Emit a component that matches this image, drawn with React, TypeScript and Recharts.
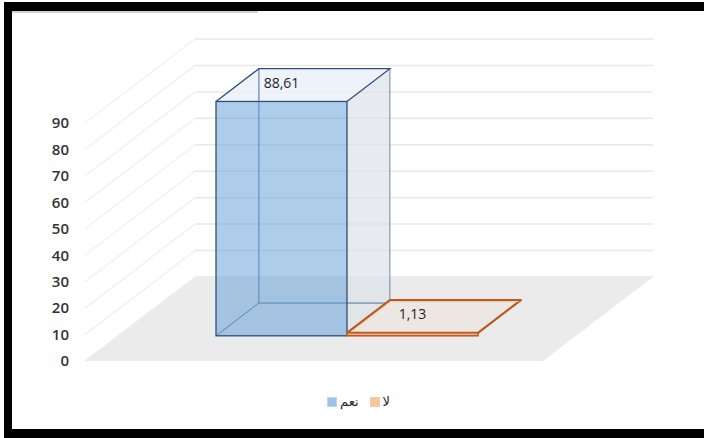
import React from 'react';
import { BarChart, Bar, XAxis, YAxis, CartesianGrid, ReferenceArea } from 'recharts';

// ---- data ----
const categories = ['الإجابة'];
const seriesNames = ['نعم', 'لا'];
const yesValues = [88.61];
const noValues = [1.13];
const yTicks = [0, 10, 20, 30, 40, 50, 60, 70, 80, 90];

const data = categories.map((c, i) => ({ name: c, yes: yesValues[i], no: noValues[i] }));

// ---- 3D projection helpers (depth vector of the floor) ----
const DX = 110;
const DY = 84;
const F0 = 0.3; // bar front depth fraction
const F1 = 0.69; // bar back depth fraction

const fmt = (v: number) => v.toFixed(2).replace('.', ',');

const pts = (a: number[][]) => a.map((p) => p.join(',')).join(' ');

const BlueBox = (props: any) => {
  const { x, y, width, height, payload } = props;
  const v = payload ? payload.yes : 0;
  const fx = x + DX * F0;
  const fy = y - DY * F0;
  const bx = x + DX * F1;
  const by = y - DY * F1;
  const fb = fy + height;
  const bb = by + height;
  const w = width;
  const edge = '#2F4F78';
  return (
    <g>
      {/* right side face */}
      <polygon points={pts([[fx + w, fy], [bx + w, by], [bx + w, bb], [fx + w, fb]])} fill="#DDE2E9" fillOpacity={0.7} />
      {/* top face */}
      <polygon points={pts([[fx, fy], [fx + w, fy], [bx + w, by], [bx, by]])} fill="#EBF1F8" fillOpacity={0.85} />
      {/* hidden (back) edges */}
      <line x1={bx} y1={by} x2={bx} y2={bb} stroke="#4D6F98" strokeWidth={1} />
      <line x1={bx} y1={bb} x2={bx + w} y2={bb} stroke="#4D6F98" strokeWidth={1} />
      <line x1={fx} y1={fb} x2={bx} y2={bb} stroke="#4D6F98" strokeWidth={1} />
      {/* front face */}
      <rect x={fx} y={fy} width={w} height={height} fill="#5B9BD5" fillOpacity={0.5} />
      {/* visible edges */}
      <rect x={fx} y={fy} width={w} height={height} fill="none" stroke={edge} strokeWidth={1.3} />
      <polyline points={pts([[fx, fy], [bx, by], [bx + w, by], [fx + w, fy]])} fill="none" stroke={edge} strokeWidth={1.3} />
      <line x1={bx + w} y1={by} x2={bx + w} y2={bb} stroke="#6F86A3" strokeWidth={1} />
      <text x={fx + w / 2} y={(fy + by) / 2 - 3} textAnchor="middle" dominantBaseline="central" fontFamily="'Open Sans', sans-serif" fontSize={14} fill="#1F1F1F">
        {fmt(v)}
      </text>
    </g>
  );
};

const OrangeBox = (props: any) => {
  const { x, y, width, height, payload } = props;
  const v = payload ? payload.no : 0;
  const fx = x + DX * F0;
  const fy = y - DY * F0;
  const bx = x + DX * F1;
  const by = y - DY * F1;
  const w = width;
  const edge = '#B55A25';
  return (
    <g>
      <polygon points={pts([[fx, fy], [fx + w, fy], [bx + w, by], [bx, by]])} fill="#ECE7E3" stroke={edge} strokeWidth={2.2} strokeLinejoin="round" />
      <polyline points={pts([[fx + 1, fy + 1.5], [bx + 1, by + 1.5], [bx + w - 2, by + 1.5]])} fill="none" stroke="#F2C9A3" strokeWidth={1} />
      <rect x={fx} y={fy} width={w} height={Math.max(height, 1)} fill="#F4B183" stroke={edge} strokeWidth={1.5} />
      <text x={fx + w / 2} y={(fy + by) / 2 - 3} textAnchor="middle" dominantBaseline="central" fontFamily="'Open Sans', sans-serif" fontSize={14} fill="#1F1F1F">
        {fmt(v)}
      </text>
    </g>
  );
};

const Floor = (props: any) => {
  const { x, y, width, height } = props;
  const b = y + height;
  return (
    <polygon points={pts([[x, b], [x + width, b], [x + width + DX, b - DY], [x + DX, b - DY]])} fill="#EBEBEB" />
  );
};

const gridLine = (props: any) => {
  const { x1, x2, y1 } = props;
  return (
    <g key={props.key}>
      <line x1={x1} y1={y1} x2={x1 + DX} y2={y1 - DY} stroke="#F2F2F2" strokeWidth={1.5} />
      <line x1={x1 + DX} y1={y1 - DY} x2={x2 + DX} y2={y1 - DY} stroke="#E8E8E8" strokeWidth={1.5} />
    </g>
  );
};

const legendColors = ['#9DC3E6', '#F4C899'];
const legendBorders = ['#BDD7EE', '#F8CBAD'];

export default function App() {
  return (
    <div style={{ position: 'absolute', left: 0, top: 0, width: 704, height: 438, background: '#FFFFFF', overflow: 'hidden' }}>
      <BarChart
        width={704}
        height={438}
        data={data}
        margin={{ top: 123, right: 161, bottom: 77, left: 0 }}
        barSize={131}
        barGap={0}
      >
        <CartesianGrid vertical={false} horizontal={gridLine} />
        <ReferenceArea y1={0} y2={90} shape={Floor} />
        <XAxis dataKey="name" hide />
        <YAxis
          width={85}
          domain={[0, 90]}
          ticks={yTicks}
          axisLine={false}
          tickLine={false}
          tickSize={6}
          tickMargin={10}
          tick={{ fill: '#333333', fontSize: 15, fontFamily: "'Open Sans', sans-serif", fontWeight: 600 }}
        />
        <Bar dataKey="yes" name={seriesNames[0]} shape={BlueBox} isAnimationActive={false} />
        <Bar dataKey="no" name={seriesNames[1]} shape={OrangeBox} isAnimationActive={false} />
      </BarChart>

      {/* legend */}
      <div style={{ position: 'absolute', left: 327, top: 394, display: 'flex', alignItems: 'center', direction: 'ltr', fontFamily: "'DejaVu Sans', 'Noto Sans', sans-serif", fontSize: 13, color: '#262626' }}>
        {seriesNames.map((s, i) => (
          <div key={s} style={{ display: 'flex', alignItems: 'center', marginRight: i === 0 ? 11 : 0 }}>
            <span style={{ display: 'inline-block', width: 8, height: 8, background: legendColors[i], border: `1px solid ${legendBorders[i]}`, marginRight: 3 }} />
            <span>{s}</span>
          </div>
        ))}
      </div>

      {/* frame */}
      <div style={{ position: 'absolute', left: 12, top: 11, width: 246, height: 2, background: '#D2D2D2' }} />
      <div style={{ position: 'absolute', left: 4, top: 2, width: 700, height: 9, background: '#000' }} />
      <div style={{ position: 'absolute', left: 4, top: 2, width: 8, height: 436, background: '#000' }} />
      <div style={{ position: 'absolute', left: 4, top: 429, width: 700, height: 9, background: '#000' }} />
    </div>
  );
}
